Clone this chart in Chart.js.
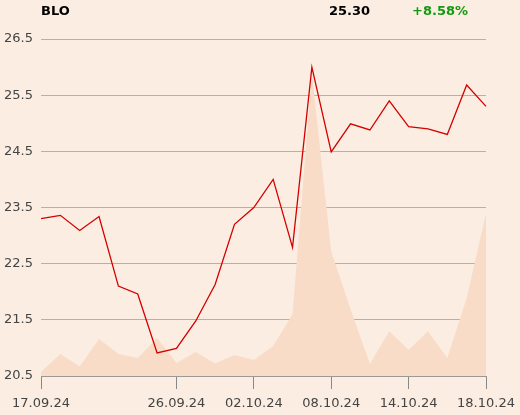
<!DOCTYPE html>
<html>
<head>
<meta charset="utf-8">
<script src="https://cdn.jsdelivr.net/npm/chart.js@4/dist/chart.umd.min.js"></script>
<style>
  html, body { margin: 0; padding: 0; background: #fbede1; }
  #wrap { width: 520px; height: 415px; position: relative; }
</style>
</head>
<body>
<div id="wrap"><canvas id="priceChart" width="520" height="415"></canvas></div>
<script>
const ticker = 'BLO';
const lastPrice = '25.30';
const change = '+8.58%';

const dates = ['17.09.24', '18.09.24', '19.09.24', '20.09.24', '23.09.24', '24.09.24', '25.09.24', '26.09.24',
    '27.09.24', '30.09.24', '01.10.24', '02.10.24', '03.10.24', '04.10.24', '07.10.24', '08.10.24',
    '09.10.24', '10.10.24', '11.10.24', '14.10.24', '15.10.24', '16.10.24', '17.10.24', '18.10.24'];
const shownDates = ['17.09.24', '26.09.24', '02.10.24', '08.10.24', '14.10.24', '18.10.24'];
const prices = [23.30, 23.36, 23.09, 23.34, 22.10, 21.96, 20.91, 20.99, 21.48, 22.13, 23.20, 23.50,
    24.00, 22.79, 26.00, 24.49, 24.99, 24.88, 25.40, 24.94, 24.90, 24.80, 25.68, 25.30];
const volumes = [400, 2200, 950, 3700, 2200, 1800, 3800, 1300, 2400, 1250, 2100, 1600,
    3000, 6200, 30300, 12500, 6700, 1200, 4500, 2600, 4500, 1800, 7800, 16300];
const yTicks = [20.5, 21.5, 22.5, 23.5, 24.5, 25.5, 26.5];

const fontName = '"DejaVu Sans", sans-serif';

// header line above the plot
const headerPlugin = {
    id: 'header',
    afterDraw(chart) {
        const c = chart.ctx;
        c.save();
        c.font = 'bold 13px ' + fontName;
        c.textBaseline = 'middle';
        c.fillStyle = '#000';
        c.textAlign = 'left';
        c.fillText(ticker, 41, 12);
        c.textAlign = 'right';
        c.fillText(lastPrice, 370, 12);
        c.fillStyle = '#119911';
        c.textAlign = 'left';
        c.fillText(change, 412, 12);
        c.restore();
    }
};

const ctx = document.getElementById('priceChart').getContext('2d');
new Chart(ctx, {
    type: 'line',
    data: {
        labels: dates,
        datasets: [{
            label: 'Kurs',
            data: prices,
            borderColor: '#d40000',
            borderWidth: 1.3,
            pointRadius: 0,
            tension: 0,
            yAxisID: 'y',
            order: 1
        }, {
            label: 'Volumen',
            data: volumes,
            borderWidth: 0,
            backgroundColor: '#f8dcc7',
            fill: 'origin',
            pointRadius: 0,
            tension: 0,
            yAxisID: 'y2',
            order: 2
        }]
    },
    options: {
        responsive: false,
        animation: false,
        layout: { padding: { top: 39, right: 34, left: 0, bottom: 0 } },
        plugins: { legend: { display: false }, tooltip: { enabled: false } },
        scales: {
            x: {
                offset: false,
                afterFit: (s) => { s.height = 39; s.paddingLeft = 0; s.paddingRight = 0; },
                grid: {
                    drawOnChartArea: false,
                    tickLength: 13,
                    color: (c) => shownDates.includes(dates[c.index]) ? '#888' : 'transparent'
                },
                border: { color: '#999' },
                ticks: {
                    autoSkip: false,
                    maxRotation: 0,
                    padding: 7,
                    color: '#444',
                    font: { family: fontName, size: 13 },
                    callback: (v, i) => shownDates.includes(dates[i]) ? dates[i] : ''
                }
            },
            y: {
                min: 20.5,
                max: 26.5,
                afterFit: (s) => { s.width = 41; },
                afterBuildTicks: (s) => { s.ticks = yTicks.map(v => ({ value: v })); },
                grid: { color: '#b5b0aa', drawTicks: false },
                border: { display: false },
                ticks: {
                    padding: 8,
                    color: '#444',
                    font: { family: fontName, size: 13 },
                    callback: (v) => v.toFixed(1)
                }
            },
            y2: {
                display: false,
                min: 0,
                max: 33800
            }
        }
    },
    plugins: [headerPlugin]
});
</script>
</body>
</html>
